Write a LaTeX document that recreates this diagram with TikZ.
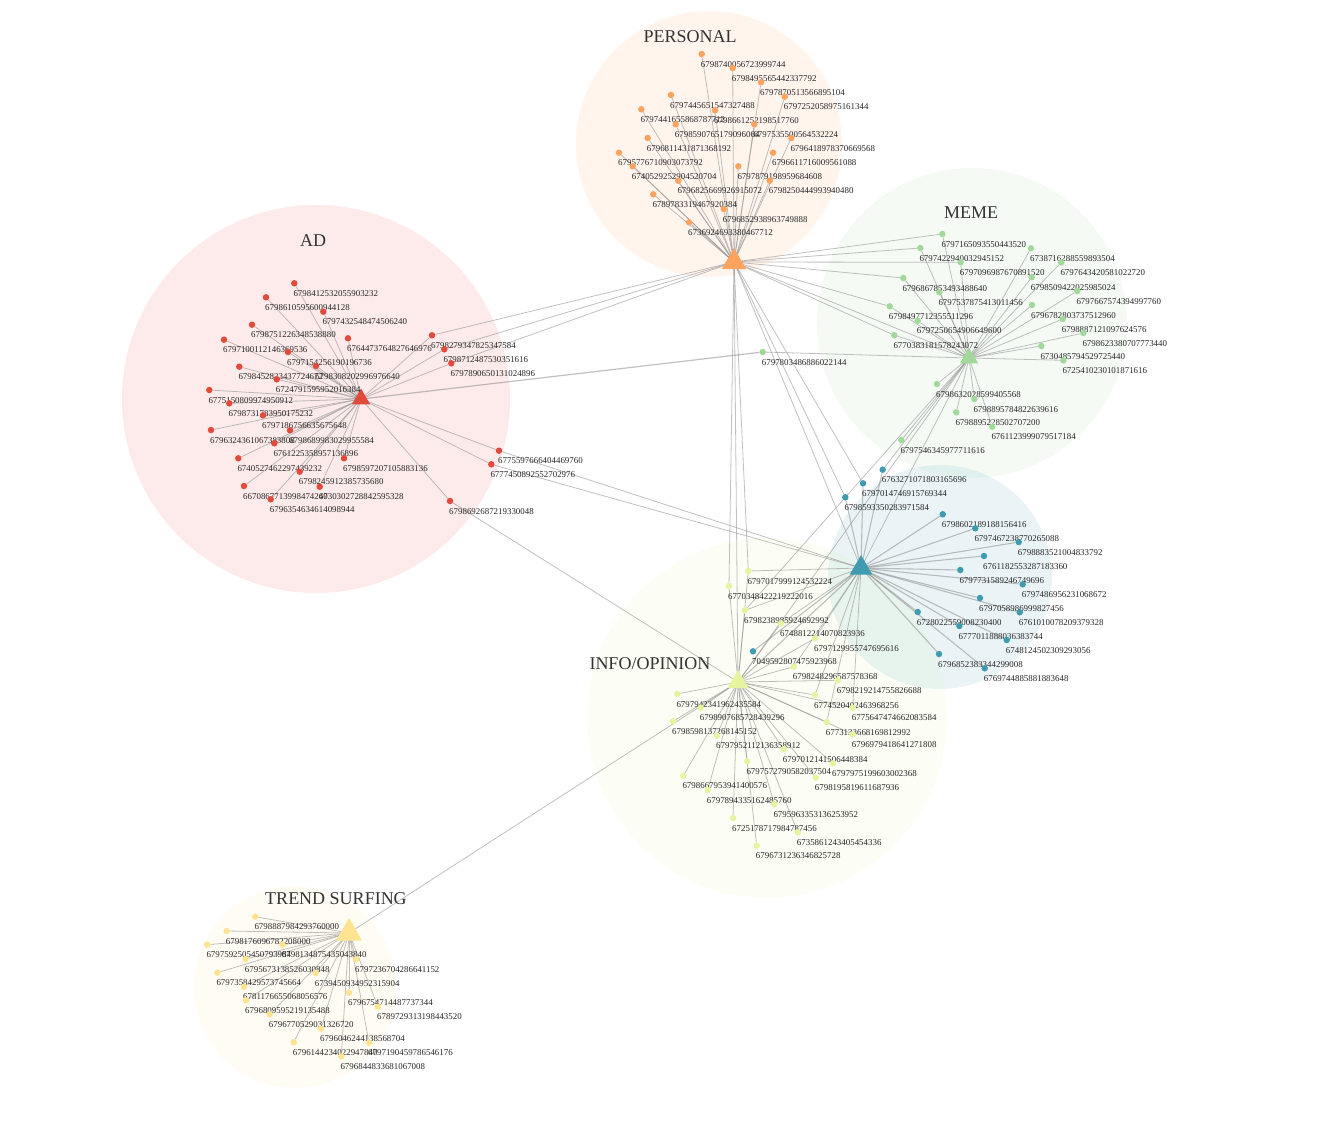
\documentclass[tikz,border=0pt]{standalone}
\usepackage{fontspec}
\setmainfont{Liberation Serif}
\usetikzlibrary{shapes.geometric}
\definecolor{adred}{HTML}{E24A3C}
\definecolor{perorange}{HTML}{FDA35F}
\definecolor{memegreen}{HTML}{A1D99B}
\definecolor{tealblue}{HTML}{3E9BB0}
\definecolor{infoyellow}{HTML}{E6F4A0}
\definecolor{trendyellow}{HTML}{FEE391}
\pgfdeclarelayer{bg}
\pgfdeclarelayer{links}
\pgfsetlayers{bg,links,main}
\tikzset{
  dotnode/.style={circle, inner sep=0pt, minimum size=6.5pt, fill=#1},
  hubnode/.style={regular polygon, regular polygon sides=3, inner sep=0pt, minimum size=#1},
  leaftext/.style={anchor=base west, inner sep=0pt, xshift=-1pt, yshift=-13pt, font=\fontsize{8.9}{10}\selectfont, text=black!85},
  grouptitle/.style={font=\fontsize{18}{20}\selectfont, text=black!80},
  link/.style={draw=black!45, line width=0.8pt, opacity=0.55},
  cluster/.style={fill=#1, fill opacity=0.11}
}

\begin{document}
\begin{tikzpicture}[x=1pt, y=-1pt]
\useasboundingbox (0,0) rectangle (1336,1146);
\begin{pgfonlayer}{bg}
\path[cluster=adred] (316,399) circle (194pt);
\path[cluster=perorange] (709,144) circle (133pt);
\path[cluster=memegreen] (972,323) circle (155pt);
\path[cluster=infoyellow] (767,718) circle (180pt);
\path[cluster=tealblue] (940,577) circle (112pt);
\path[cluster=trendyellow] (295,987) circle (101pt);
\end{pgfonlayer}

\node[grouptitle] (adtitle) at (313,241) {AD};
\node[grouptitle] (pertitle) at (690,37) {PERSONAL};
\node[grouptitle] (memetitle) at (971,213) {MEME};
\node[grouptitle] (infotitle) at (650,664) {INFO/OPINION};
\node[grouptitle] (trendtitle) at (336,899) {TREND SURFING};

\node[hubnode=21pt, fill=adred] (ahub) at (361,399) {};
\node[hubnode=28pt, fill=perorange] (phub) at (734,262) {};
\node[hubnode=21pt, fill=memegreen] (mhub) at (969,358) {};
\node[hubnode=26pt, fill=tealblue] (thub) at (861,568) {};
\node[hubnode=24pt, fill=infoyellow] (ihub) at (738,682) {};
\node[hubnode=30pt, fill=trendyellow] (shub) at (349,933) {};

\foreach \k/\px/\py/\lab in {1/294.3/283.3/6798412532055903232, 2/266/297.3/6798610595600944128, 3/323.3/311.7/6797432548474506240, 4/252/324.7/6798751226348538880, 5/348/338.3/6764473764827646976, 6/224/339.7/6797100112146369536, 7/288/352/6797154256190196736, 8/239.3/366.7/6798452823437724672, 9/316/366/6798308202996976640, 10/276.7/379.3/6724791595952016384, 11/209.3/390/6775150809974950912, 12/229.3/403.3/6798731783950175232, 13/263/415.3/6797186756635675648, 14/211/430/6796324361067383808, 15/290/430.3/6798689983029955584, 16/274.3/443.3/6761225358957136896, 17/238.3/458.3/6740527462297439232, 18/344/458.3/6798597207105883136, 19/299.7/471.7/6798245912385735680, 20/244/486/6670867713998474240, 21/319.7/486.7/6730302728842595328, 22/270.7/499.3/6796354634614098944, 23/432/335.3/6798279347825347584, 24/444.3/349.3/6798712487530351616, 25/451.3/363.3/6797890650131024896, 26/499/450.7/6775597666404469760, 27/491.3/464.3/6777450892552702976, 28/450/501/6798692687219330048}{
  \node[dotnode=adred] (a\k) at (\px,\py) {};
  \node[leaftext] at (a\k) {\lab};
  \begin{pgfonlayer}{links}\draw[link] (ahub.center) -- (a\k);\end{pgfonlayer}
}

\foreach \k/\px/\py/\lab in {1/701.7/54/6798740056723999744, 2/732.7/68/6798495565442337792, 3/761/82.3/6797870513566895104, 4/784.7/96.7/6797252058975161344, 5/671/95/6797445651547327488, 7/641.3/109.3/6797441655868787712, 6/715/110.3/6798661252198517760, 9/675.7/124.3/6798590765179096064, 8/754.3/124.3/6797535500564532224, 10/791.3/138/6796418978370669568, 11/647.7/138/6796811431871368192, 12/619/152.7/6795776710903073792, 13/773/152.7/6796611716009561088, 14/632.7/166.3/6740529252904520704, 15/738.3/166.3/6797879198959684608, 16/678.3/180.7/6796825669926915072, 17/769.7/180.7/6798250444993940480, 18/653.3/194.3/6789783319467920384, 19/723.7/209/6796852938963749888, 20/689/222.3/6736924693380467712}{
  \node[dotnode=perorange] (p\k) at (\px,\py) {};
  \node[leaftext] at (p\k) {\lab};
  \begin{pgfonlayer}{links}\draw[link] (phub.center) -- (p\k);\end{pgfonlayer}
}

\foreach \k/\px/\py/\lab in {1/942.3/234/6797165093550443520, 2/920.3/248/6797422940032945152, 3/1031/248.3/6738716288559893504, 4/960.7/262.3/6797096987670891520, 5/1061.3/262.3/6797643420581022720, 6/903.3/278/6796867853493488640, 7/1031.7/277.3/6798509422025985024, 8/939.3/292.3/6797537875413011456, 9/1077.3/291/6797667574394997760, 10/889.7/306.3/6798497712355511296, 11/1032/305/6796782803737512960, 12/917.7/320.7/6797250654906649600, 13/1062.7/319/6798887121097624576, 14/894.3/335.3/6770383181578243072, 15/1083.3/333/6798623380707773440, 16/1041.3/346/6730485794529725440, 17/1063.3/360.3/6725410230101871616, 18/937/384/6798632028599405568, 19/974.3/399/6798895784822639616, 20/956.3/412.3/6798895228502707200, 21/992.3/426.7/6761123999079517184, 22/901.3/440/6797546345977711616, 23/762.7/352/6797803486886022144}{
  \node[dotnode=memegreen] (m\k) at (\px,\py) {};
  \node[leaftext] at (m\k) {\lab};
  \begin{pgfonlayer}{links}\draw[link] (mhub.center) -- (m\k);\end{pgfonlayer}
}

\foreach \k/\px/\py/\lab in {1/882.7/469.7/6763271071803165696, 2/863/483.3/6797014746915769344, 3/845.3/497.3/6798593350283971584, 4/942.7/514.3/6798602189188156416, 5/975.3/528.3/6797467238770265088, 6/1018.7/542/6798883521004833792, 7/984/556/6761182553287183360, 8/960.3/570/6797731589246749696, 9/1022.7/584.3/6797486956231068672, 10/980/598/6797058986999827456, 11/1019.7/612.3/6761010078209379328, 12/917.7/612/6728022559008230400, 13/959.3/626/6777011888036383744, 14/1006.7/640/6748124502309293056, 15/939/654/6796852383344299008, 16/984.7/668.3/6769744885881883648, 17/753/651.3/7049592807475923968}{
  \node[dotnode=tealblue] (t\k) at (\px,\py) {};
  \node[leaftext] at (t\k) {\lab};
  \begin{pgfonlayer}{links}\draw[link, line width=1.1pt] (thub.center) -- (t\k);\end{pgfonlayer}
}

\foreach \k/\px/\py/\lab in {1/748.3/571/6797017999124532224, 2/729/586/6770348422219222016, 3/745/610.3/6798238985924692992, 4/781/623.3/6748812214070823936, 5/815/638.3/6797129955747695616, 6/793.7/666.7/6798248296587578368, 7/837.7/680.3/6798219214755826688, 8/815/695/6774520402463968256, 9/852.7/707.7/6775647474662083584, 10/677.3/694/6797942341962435584, 11/700.7/707.7/6798907685728439296, 12/673/721.3/6798598137268145152, 13/826.7/722/6773133668169812992, 14/852.7/734.3/6796979418641271808, 15/717/735.7/6797952112136358912, 16/783.7/749.3/6797012141506448384, 17/747.3/761.3/6797572790582037504, 18/833/763.3/6797975199603002368, 19/815.7/777.7/6798195819611687936, 20/683.3/775.7/6798667953941400576, 21/707.7/790/6797894335162485760, 22/774.3/804/6795963353136253952, 23/733/818/6725178717984787456, 24/797.7/832.3/6735861243405454336, 25/756.7/845.7/6796731236346825728}{
  \node[dotnode=infoyellow] (i\k) at (\px,\py) {};
  \node[leaftext] at (i\k) {\lab};
  \begin{pgfonlayer}{links}\draw[link] (ihub.center) -- (i\k);\end{pgfonlayer}
}

\foreach \k/\px/\py/\lab in {1/255.3/916.7/6798887984293760000, 2/226.7/931/6798176096782208000, 3/207.3/944.7/6797592505450793984, 4/282.7/944.7/6798134875435043840, 5/245.7/959/6795673138526030848, 6/356/959.3/6797236704286641152, 7/217.3/972.7/6797358429573745664, 8/315.7/973/6739450934952315904, 9/244/986.7/6781176655068056576, 10/349/992.7/6796754714487737344, 11/246/1000.3/6796809595219135488, 12/378/1006.7/6789729313198443520, 13/269.7/1014.3/6796770529031326720, 14/321/1028.7/6796046244138568704, 15/293.7/1042.3/6796144234022947840, 16/369/1042.7/6797190459786546176, 17/341.3/1056.3/6796844833681067008}{
  \node[dotnode=trendyellow] (s\k) at (\px,\py) {};
  \node[leaftext] at (s\k) {\lab};
  \begin{pgfonlayer}{links}\draw[link] (shub.center) -- (s\k);\end{pgfonlayer}
}

\begin{pgfonlayer}{links}
\draw[link] (a23) -- (phub.center);
\draw[link] (a24) -- (phub.center);
\draw[link] (a25) -- (phub.center);
\draw[link, line width=1.2pt] (ahub.center) -- (m23);
\draw[link] (a26) -- (thub.center);
\draw[link] (a27) -- (thub.center);
\draw[link] (a28) -- (ihub.center);
\draw[link] (shub.center) -- (ihub.center);
\foreach \k in {1,2,4,6,10,14}
  \draw[link] (phub.center) -- (m\k);
\draw[link] (phub.center) -- (mhub.center);
\draw[link] (phub.center) -- (thub.center);
\draw[link] (phub.center) -- (t2);
\draw[link] (phub.center) -- (t3);
\draw[link] (phub.center) -- (ihub.center);
\draw[link] (phub.center) -- (i1);
\draw[link] (phub.center) -- (i2);
\draw[link] (mhub.center) -- (thub.center);
\draw[link] (mhub.center) -- (ihub.center);
\draw[link] (mhub.center) -- (i3);
\draw[link] (mhub.center) -- (t1);
\foreach \k in {1,3,4,5,6,8,9,13}
  \draw[link] (thub.center) -- (i\k);
\draw[link, line width=1.1pt] (thub.center) -- (ihub.center);
\end{pgfonlayer}
\end{tikzpicture}
\end{document}
